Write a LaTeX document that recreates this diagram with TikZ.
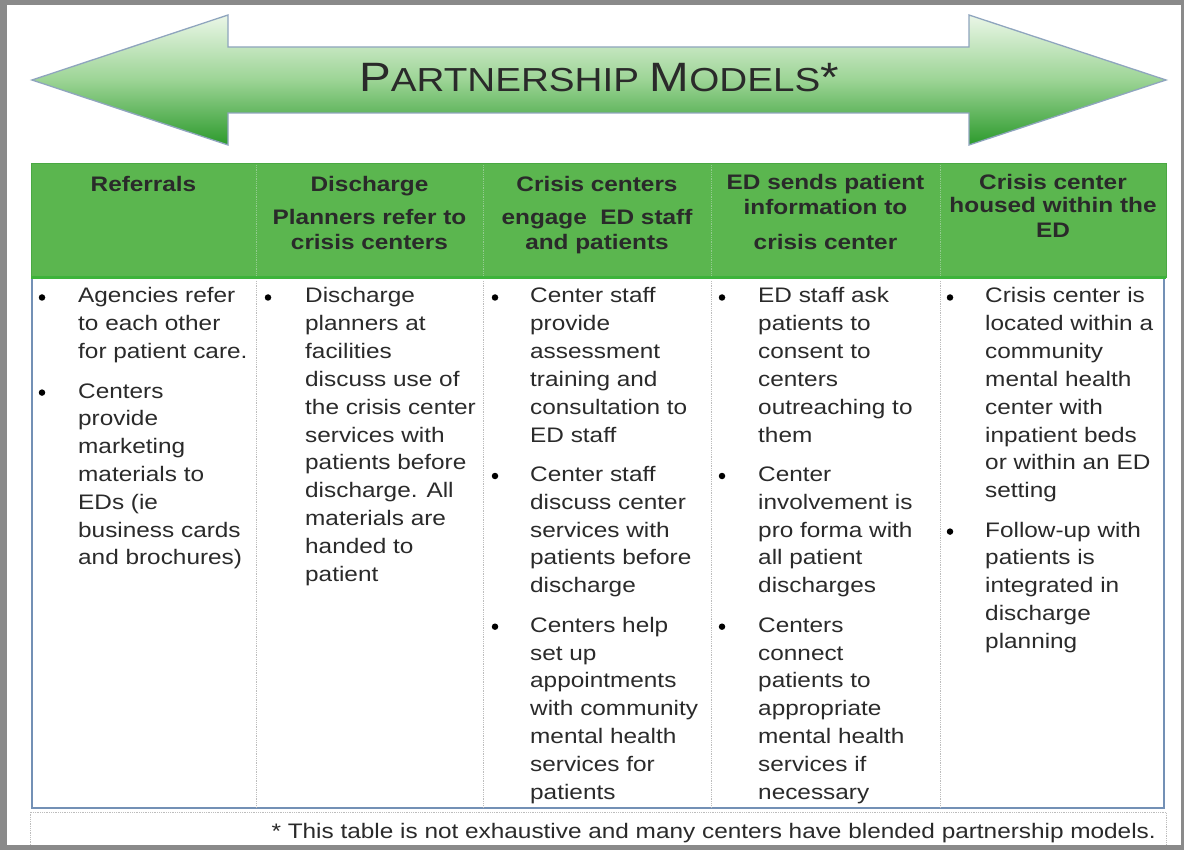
\documentclass[tikz,border=0pt]{standalone}
\usepackage{fontspec}
\setmainfont{Liberation Sans}[FakeStretch=1.16]
\definecolor{framegray}{HTML}{8A8A8A}
\definecolor{arrowtop}{HTML}{EAF6E7}
\definecolor{arrowmid}{HTML}{9CD495}
\definecolor{arrowbot}{HTML}{2C9A2C}
\definecolor{arrowline}{HTML}{8FA5BE}
\definecolor{headgreen}{HTML}{5BB64F}
\definecolor{headedge}{HTML}{4AA843}
\definecolor{headbottom}{HTML}{3DB33A}
\definecolor{bodyedge}{HTML}{7390B5}
\definecolor{sepgray}{HTML}{BDBDBD}
\definecolor{txt}{HTML}{2A2A2A}
\newcommand\bpara[5]{%
  \node[bul] (#1b) at (#2,#4-5.5) {};
  \foreach \t [count=\i from 0] in {#5}
    \node[bodytxt] (#1l\i) at (#3,{#4+\i*27.8}) {\t};}
\begin{document}
\begin{tikzpicture}[x=1pt,y=-1pt,
  bodytxt/.style={font=\fontsize{21}{25}\selectfont, text=txt, inner sep=0pt, anchor=base west},
  headtxt/.style={font=\fontsize{21}{25}\selectfont\bfseries, text=txt, inner sep=0pt, anchor=base},
  bul/.style={circle, fill=black, inner sep=0pt, minimum size=6.5pt},
  sep/.style={sepgray, densely dotted, line width=0.8pt}]
\useasboundingbox (0,0) rectangle (1184,850);
% outer frame
\fill[framegray] (0,0) rectangle (1184,850);
\fill[white] (7,5) rectangle (1181,845);
% double arrow
\path[draw=arrowline, line width=1.3pt, line join=miter,
      top color=arrowtop, bottom color=arrowbot, middle color=arrowmid]
  (32,80) -- (228,15) -- (228,47) -- (969,47) -- (969,15) -- (1166,80)
  -- (969,145) -- (969,113) -- (228,113) -- (228,145) -- cycle;
\node[text=txt, inner sep=0pt, anchor=base] (title) at (599,92)
  {\fontsize{41}{44}\selectfont P\fontsize{33.3}{36}\selectfont ARTNERSHIP
   \fontsize{41}{44}\selectfont M\fontsize{33.3}{36}\selectfont ODELS\fontsize{41}{44}\selectfont *};
% header
\fill[headgreen] (31,164) rectangle (1166,278);
\draw[headedge, line width=1pt] (31,278) -- (31,164) -- (1166,164) -- (1166,278);
\foreach \x in {256,483,711,940} \draw[headedge!60!white, densely dotted, line width=0.8pt] (\x,165) -- (\x,277);
% body
\draw[bodyedge, line width=2pt] (32,279) -- (32,808) -- (1164,808) -- (1164,279);
\foreach \x in {256,483,711,940} \draw[sep] (\x,281) -- (\x,807);
\draw[headbottom, line width=3pt] (31,278) -- (1166,278);
% footer box
\draw[sepgray, densely dotted, line width=0.8pt] (30,845) -- (30,812) -- (1166,812) -- (1166,845);
\node[bodytxt, anchor=base east] (foot) at (1156,838)
  {* This table is not exhaustive and many centers have blended partnership models.};
% header text
\node[headtxt] (h1a) at (143.5,192) {Referrals};
\node[headtxt] (h2a) at (369.5,192) {Discharge};
\node[headtxt] (h2b) at (369.5,225) {Planners refer to};
\node[headtxt] (h2c) at (369.5,250) {crisis centers};
\node[headtxt] (h3a) at (597,192) {Crisis centers};
\node[headtxt] (h3b) at (597,225) {engage\ \ ED staff};
\node[headtxt] (h3c) at (597,250) {and patients};
\node[headtxt] (h4a) at (825.5,190) {ED sends patient};
\node[headtxt] (h4b) at (825.5,215) {information to};
\node[headtxt] (h4c) at (825.5,250) {crisis center};
\node[headtxt] (h5a) at (1053,190) {Crisis center};
\node[headtxt] (h5b) at (1053,213) {housed within the};
\node[headtxt] (h5c) at (1053,238) {ED};
% body text
\bpara{ca}{42}{78}{303}{Agencies refer,to each other,for patient care.}
\bpara{cb}{42}{78}{398.1}{Centers,provide,marketing,materials to,EDs (ie,business cards,and brochures)}
\bpara{da}{268}{305}{303}{Discharge,planners at,facilities,discuss use of,the crisis center,services with,patients before,discharge. All,materials are,handed to,patient}
\bpara{ea}{495}{530}{303}{Center staff,provide,assessment,training and,consultation to,ED staff}
\bpara{eb}{495}{530}{481.5}{Center staff,discuss center,services with,patients before,discharge}
\bpara{ec}{495}{530}{632.2}{Centers help,set up,appointments,with community,mental health,services for,patients}
\bpara{fa}{722}{758}{303}{ED staff ask,patients to,consent to,centers,outreaching to,them}
\bpara{fb}{722}{758}{481.5}{Center,involvement is,pro forma with,all patient,discharges}
\bpara{fc}{722}{758}{632.2}{Centers,connect,patients to,appropriate,mental health,services if,necessary}
\bpara{ga}{950}{985}{303}{Crisis center is,located within a,community,mental health,center with,inpatient beds,or within an ED,setting}
\bpara{gb}{950}{985}{537.1}{Follow-up with,patients is,integrated in,discharge,planning}
\end{tikzpicture}
\end{document}
